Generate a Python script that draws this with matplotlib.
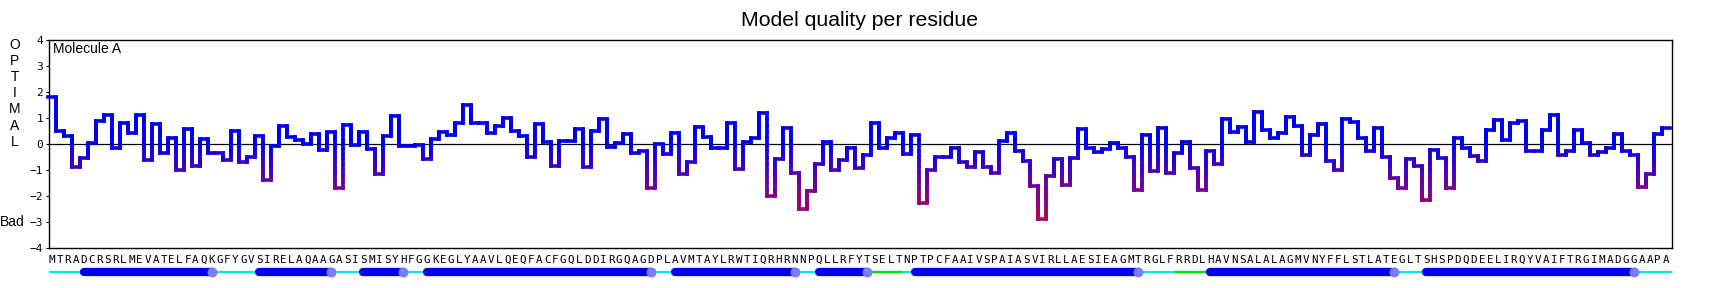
import numpy as np
import matplotlib.pyplot as plt
from matplotlib.collections import LineCollection
from matplotlib.colors import LinearSegmentedColormap, Normalize

sequence = ("MTRADCRSRLMEVATELFAQKGFYGVSIRELAQAAGASISMISYHFGGKEGLYAAVLQEQ"
            "FACFGQLDDIRGQAGDPLAVMTAYLRWTIQRHRNNPQLLRFYTSELTNPTPCFAAIVSPA"
            "IASVIRLLAESIEAGMTRGLFRRDLHAVNSALALAGMVNYFFLSTLATEGLTSHSPDQDE"
            "ELIRQYVAIFTRGIMADGGAAPA")

scores = [
    1.8, 0.5, 0.3, -0.9, -0.55, 0.05, 0.87, 1.1, -0.15, 0.8,
    0.44, 1.1, -0.6, 0.77, -0.35, 0.22, -1.0, 0.56, -0.83, 0.18,
    -0.33, -0.35, -0.6, 0.51, -0.68, -0.5, 0.31, -1.38, -0.08, 0.69,
    0.28, 0.15, 0.0, 0.38, -0.23, 0.47, -1.7, 0.73, -0.05, 0.47,
    -0.2, -1.17, 0.31, 1.09, -0.08, -0.08, -0.02, -0.58, 0.18, 0.45,
    0.35, 0.8, 1.5, 0.82, 0.8, 0.44, 0.69, 0.99, 0.5, 0.31,
    -0.51, 0.77, 0.06, -0.85, 0.12, 0.12, 0.56, -0.9, 0.5, 0.96,
    -0.1, 0.05, 0.38, -0.33, -0.27, -1.7, 0.0, -0.38, 0.41, -1.17,
    -0.68, 0.64, 0.28, -0.17, -0.17, 0.8, -0.97, 0.06, 0.24, 1.2,
    -2.0, -0.59, 0.6, -1.13, -2.5, -1.8, -0.77, 0.06, -1.0, -0.6,
    -0.17, -0.94, -0.42, 0.82, -0.17, 0.22, 0.41, -0.38, 0.35, -2.28,
    -1.0, -0.49, -0.49, -0.17, -0.68, -0.87, -0.29, -0.9, -1.13, 0.13,
    0.41, -0.27, -0.65, -1.6, -2.9, -1.22, -0.59, -1.58, -0.55, 0.56,
    -0.17, -0.29, -0.2, 0.03, -0.17, -0.49, -1.77, 0.35, -1.03, 0.6,
    -1.13, -0.33, 0.06, -0.94, -1.77, -0.27, -0.77, 0.95, 0.47, 0.67,
    0.06, 1.24, 0.54, 0.22, 0.41, 1.03, 0.69, -0.42, 0.35, 0.77,
    -0.64, -1.0, 0.95, 0.86, 0.22, -0.27, 0.6, -0.49, -1.32, -1.7,
    -0.59, -0.85, -2.15, -0.23, -0.55, -1.7, 0.24, -0.15, -0.45, -0.64,
    0.52, 0.93, 0.15, 0.8, 0.88, -0.26, -0.26, 0.54, 1.12, -0.42,
    -0.26, 0.54, 0.05, -0.42, -0.3, -0.17, 0.38, -0.26, -0.42, -1.64,
    -1.17, 0.38, 0.6,
]

# secondary structure (residue indices, 0-based)
helix_start = [4, 26, 39, 47, 78, 96, 108, 145, 172]
helix_end = [20, 35, 44, 75, 93, 102, 136, 168, 198]
turn_start = [103, 141]
turn_end = [106, 144]

yticks = [-4, -3, -2, -1, 0, 1, 2, 3, 4]

n = len(scores)
fig = plt.figure(figsize=(17.2, 2.88), dpi=100)
L, R = 49.3 / 1720, 1671.7 / 1720
ax = fig.add_axes([L, 1 - 248 / 288, R - L, 208 / 288])

cmap = LinearSegmentedColormap.from_list(
    "quality", [(0.72, 0.0, 0.33), (0.42, 0.0, 0.62), (0.0, 0.0, 0.94)])
norm = Normalize(vmin=-3, vmax=0, clip=True)

# step line, vertical risers split up so the colour follows the height
segs, segvals = [], []
for i, v in enumerate(scores):
    segs.append([(i - 0.5, v), (i + 0.5, v)])
    segvals.append(v)
    if i + 1 < n:
        ys = np.linspace(v, scores[i + 1], 14)
        for a, b in zip(ys[:-1], ys[1:]):
            segs.append([(i + 0.5, a), (i + 0.5, b)])
            segvals.append((a + b) / 2)
lc = LineCollection(segs, colors=cmap(norm(segvals)), linewidths=2.6,
                    capstyle='projecting', zorder=3)
lc.set_clip_on(False)
ax.add_collection(lc)

ax.axhline(0, color='black', lw=0.9, zorder=2)
ax.set_xlim(-0.3, 202.75)
ax.set_ylim(-4, 4)
ax.set_yticks(yticks)
ax.set_yticklabels([str(t).replace('-', '\u2212') for t in yticks],
                   family='DejaVu Sans Mono', fontsize=8)
ax.tick_params(axis='y', length=2.5, width=0.8, pad=2)
ax.set_xticks(range(n))
ax.set_xticklabels(list(sequence), family='DejaVu Sans Mono', fontsize=7.8)
ax.tick_params(axis='x', length=0, pad=5)
for s in ax.spines.values():
    s.set_linewidth(1.0)

ax.text(0.0025, 0.955, "Molecule A", transform=ax.transAxes,
        family='Liberation Sans', fontsize=10, va='center', ha='left')

fig.text(0.5, 1 - 20.5 / 288, "Model quality per residue",
         family='Liberation Sans', fontsize=15.3, ha='center', va='center')

for k, ch in enumerate("OPTIMAL"):
    fig.text(14.5 / 1720, 1 - (45 + 16.1 * k) / 288, ch,
             family='Liberation Sans', fontsize=10, ha='center', va='center')
fig.text(12.5 / 1720, 1 - 222.5 / 288, "Bad",
         family='Liberation Sans', fontsize=10, ha='center', va='center')

# secondary structure strip
ss = fig.add_axes([L, 1 - 282 / 288, R - L, 20 / 288])
ss.set_xlim(ax.get_xlim())
ss.set_ylim(-1, 1)
ss.axis('off')
ss.plot([-0.3, 202.75], [0, 0], color='#00E8F4', lw=1.6,
        solid_capstyle='butt', zorder=1)
for s, e in zip(turn_start, turn_end):
    ss.plot([s - 0.5, e + 0.5], [0, 0], color='#00E000', lw=1.6,
            solid_capstyle='butt', zorder=2)
for s, e in zip(helix_start, helix_end):
    ss.plot([s, e], [0, 0], color='#0000EE', lw=6.0,
            solid_capstyle='round', zorder=3)
    ss.plot([e], [0], 'o', color='#7C7CFF', ms=7.2, mew=0, zorder=4)

fig.savefig("out.png", dpi=100)
